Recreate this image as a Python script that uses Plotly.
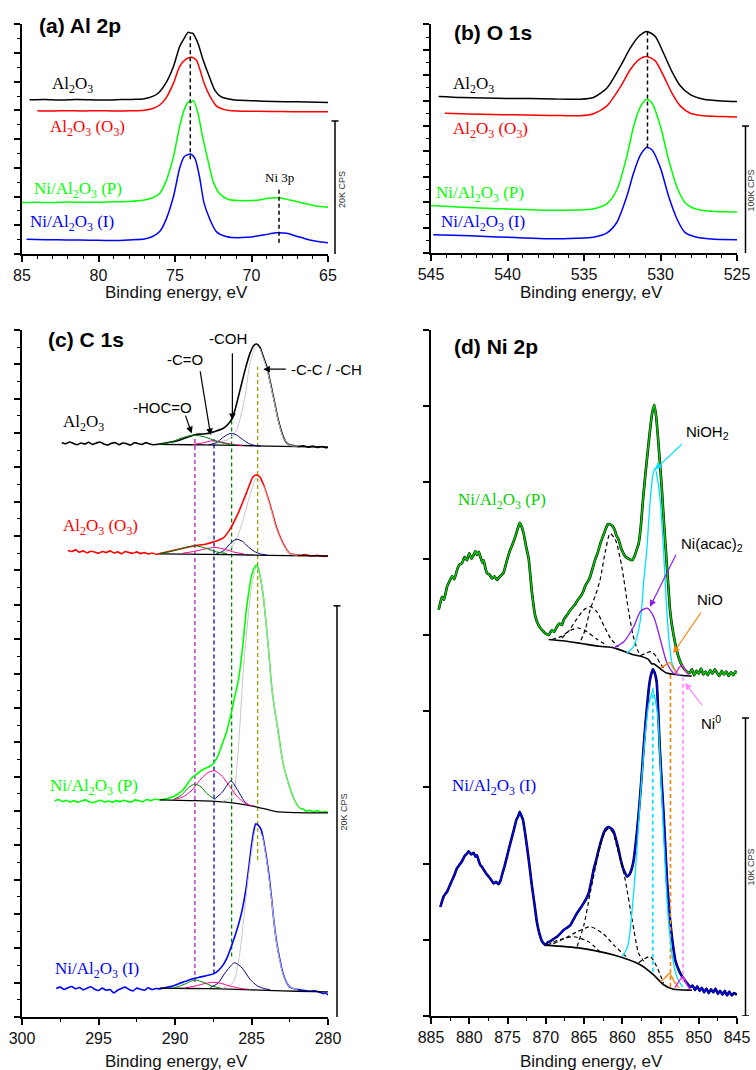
import plotly.graph_objects as go

# ===================== (a) Al 2p =====================
a_E_al2o3 = [84.5, 83.5, 82.5, 81.5, 80.5, 79.5, 78.5, 77.5, 77.0, 76.5, 76.1, 75.6, 75.1, 74.7, 74.4, 74.15, 74.0, 73.85, 73.5, 73.2, 72.8, 72.4, 72.0, 71.2, 70.0, 68.5, 67.0, 65.0]
a_I_al2o3 = [5.37, 5.38, 5.36, 5.38, 5.37, 5.36, 5.38, 5.39, 5.41, 5.48, 5.60, 5.95, 6.53, 7.22, 7.51, 7.72, 7.70, 7.69, 7.34, 6.82, 6.24, 5.71, 5.48, 5.37, 5.34, 5.31, 5.30, 5.28]
a_E_al2o3_o3 = [84.0, 83.0, 82.0, 81.0, 80.0, 79.0, 78.0, 77.0, 76.5, 76.0, 75.6, 75.1, 74.7, 74.3, 73.9, 73.6, 73.4, 73.1, 72.7, 72.3, 71.7, 71.0, 69.5, 68.0, 66.5, 65.0]
a_I_al2o3_o3 = [4.99, 4.98, 4.99, 4.98, 4.99, 4.98, 4.99, 5.01, 5.06, 5.19, 5.42, 5.95, 6.53, 6.78, 6.85, 6.75, 6.47, 5.95, 5.48, 5.16, 5.02, 4.98, 4.97, 4.96, 4.95, 4.95]
a_E_ni_p = [85.0, 84.0, 83.0, 82.0, 81.0, 80.0, 79.0, 78.0, 77.0, 76.5, 76.0, 75.6, 75.1, 74.7, 74.4, 74.1, 73.95, 73.8, 73.5, 73.2, 72.8, 72.5, 72.1, 71.5, 70.8, 70.0, 69.5, 68.9, 68.2, 67.5, 66.6, 65.8, 65.0]
a_I_ni_p = [1.79, 1.80, 1.79, 1.81, 1.80, 1.80, 1.82, 1.83, 1.88, 1.95, 2.11, 2.52, 3.39, 4.44, 5.02, 5.31, 5.28, 5.35, 4.90, 4.09, 3.16, 2.52, 2.11, 1.90, 1.86, 1.86, 1.88, 1.94, 1.96, 1.88, 1.77, 1.67, 1.63]
a_E_ni_i = [84.7, 83.5, 82.0, 80.5, 79.0, 78.0, 77.0, 76.5, 76.0, 75.6, 75.1, 74.7, 74.4, 74.0, 73.7, 73.4, 73.1, 72.7, 72.3, 71.6, 70.3, 69.2, 68.4, 67.7, 67.1, 66.2, 65.0]
a_I_ni_i = [0.51, 0.50, 0.49, 0.48, 0.47, 0.49, 0.52, 0.60, 0.78, 1.18, 2.00, 2.98, 3.39, 3.48, 3.33, 2.69, 1.77, 1.18, 0.78, 0.60, 0.58, 0.66, 0.74, 0.72, 0.63, 0.49, 0.39]
a_mark_E = [74.0, 68.2]
a_mark_lo = [3.30, 0.39]
a_mark_hi = [7.69, 2.29]

# ===================== (b) O 1s =====================
b_E_al2o3 = [544.5, 543.0, 541.5, 540.0, 538.5, 537.0, 535.25, 534.38, 533.5, 532.63, 531.98, 531.43, 530.89, 530.34, 529.8, 529.25, 528.71, 528.05, 527.18, 526.0, 525.0]
b_I_al2o3 = [6.16, 6.12, 6.10, 6.08, 6.08, 6.06, 6.05, 6.12, 6.49, 7.34, 8.06, 8.52, 8.72, 8.52, 7.86, 7.14, 6.58, 6.23, 6.05, 5.98, 5.96]
b_E_al2o3_o3 = [544.1, 542.5, 541.0, 539.5, 538.0, 536.5, 535.25, 534.38, 533.5, 532.63, 531.98, 531.43, 530.89, 530.34, 529.8, 529.25, 528.71, 528.05, 527.18, 526.0, 525.0]
b_I_al2o3_o3 = [5.50, 5.47, 5.45, 5.44, 5.42, 5.41, 5.40, 5.48, 5.79, 6.53, 7.21, 7.60, 7.73, 7.56, 6.97, 6.29, 5.79, 5.50, 5.40, 5.37, 5.35]
b_E_ni_p = [545.0, 543.5, 541.8, 539.5, 537.4, 535.5, 534.4, 533.5, 532.85, 532.2, 531.76, 531.3, 530.9, 530.56, 530.0, 529.47, 528.9, 528.4, 527.7, 526.7, 525.0]
b_I_ni_p = [1.87, 1.82, 1.77, 1.72, 1.68, 1.69, 1.73, 1.94, 2.49, 3.80, 4.98, 5.77, 6.05, 5.90, 4.98, 3.67, 2.56, 1.99, 1.73, 1.64, 1.61]
b_E_ni_i = [544.85, 543.0, 541.8, 539.5, 537.4, 535.5, 534.4, 533.5, 532.85, 532.2, 531.76, 531.3, 530.9, 530.56, 530.0, 529.47, 528.9, 528.4, 527.7, 526.7, 525.0]
b_I_ni_i = [0.72, 0.69, 0.66, 0.61, 0.56, 0.58, 0.62, 0.79, 1.21, 2.23, 3.15, 3.87, 4.15, 4.06, 3.34, 2.23, 1.31, 0.81, 0.63, 0.55, 0.52]
b_mark_E = [530.85]
b_mark_lo = [4.15]
b_mark_hi = [8.72]

# ===================== (c) C 1s =====================
c_E_al2o3 = [297.4, 297.15, 296.9, 296.65, 296.4, 296.15, 295.9, 295.65, 295.4, 295.15, 294.9, 294.65, 294.4, 294.15, 293.9, 293.65, 293.4, 293.15, 292.9, 292.65, 292.4, 292.15, 291.9, 291.65, 291.4,
             291.0, 290.54, 290.1, 289.67, 289.0, 288.7, 288.37, 288.0, 287.6, 287.3, 286.84, 286.55, 286.3, 286.08, 285.75, 285.42, 285.1, 284.85, 284.66, 284.45, 284.25, 284.0, 283.57, 283.25, 282.92, 282.7, 282.48, 282.2, 281.9, 281.6, 281.3, 281.0, 280.7, 280.4, 280.1, 280.0]
c_I_al2o3 = [16.72, 16.69, 16.74, 16.70, 16.66, 16.71, 16.68, 16.73, 16.67, 16.71, 16.74, 16.68, 16.65, 16.70, 16.72, 16.66, 16.71, 16.69, 16.65, 16.72, 16.69, 16.67, 16.72, 16.68, 16.66,
             16.68, 16.72, 16.75, 16.80, 16.91, 16.95, 16.97, 16.98, 17.02, 17.06, 17.14, 17.25, 17.40, 17.67, 18.25, 18.84, 19.32, 19.55, 19.59, 19.50, 19.25, 18.93, 18.06, 17.38, 16.89, 16.72, 16.65, 16.63, 16.61, 16.63, 16.59, 16.62, 16.58, 16.61, 16.57, 16.59]
c_E_al2o3_o3 = [297.0, 296.75, 296.5, 296.25, 296.0, 295.75, 295.5, 295.25, 295.0, 294.75, 294.5, 294.25, 294.0, 293.75, 293.5, 293.25, 293.0, 292.75, 292.5, 292.25, 292.0, 291.75, 291.5, 291.25,
                291.0, 290.13, 289.26, 288.71, 287.95, 287.41, 286.86, 286.43, 285.88, 285.34, 284.9, 284.68, 284.45, 284.25, 283.81, 283.38, 282.94, 282.51, 282.2, 281.85, 281.5, 281.1, 280.7, 280.3, 280.0]
c_I_al2o3_o3 = [13.58, 13.55, 13.60, 13.53, 13.57, 13.51, 13.56, 13.54, 13.50, 13.55, 13.52, 13.57, 13.51, 13.54, 13.49, 13.55, 13.52, 13.50, 13.54, 13.49, 13.52, 13.48, 13.51, 13.47,
                13.49, 13.58, 13.67, 13.72, 13.77, 13.84, 13.94, 14.18, 14.66, 15.25, 15.73, 15.78, 15.72, 15.54, 14.95, 14.27, 13.79, 13.50, 13.46, 13.44, 13.46, 13.42, 13.44, 13.41, 13.42]
c_E_ni_p = [297.86, 297.6, 297.35, 297.1, 296.85, 296.6, 296.35, 296.1, 295.85, 295.6, 295.35, 295.1, 294.85, 294.6, 294.35, 294.1, 293.85, 293.6, 293.35, 293.1, 292.85, 292.6, 292.35, 292.1, 291.85, 291.6, 291.35,
            291.0, 290.6, 290.13, 289.8, 289.48, 289.2, 288.93, 288.65, 288.39, 288.1, 287.84, 287.6, 287.41, 287.15, 286.86, 286.63, 286.43, 286.25, 286.1, 285.88, 285.7, 285.55, 285.34, 285.15, 285.01, 284.85, 284.68, 284.55, 284.4, 284.25, 284.1, 283.92, 283.7, 283.55, 283.38, 283.2, 283.05, 282.9, 282.72, 282.5, 282.29, 282.05, 281.85, 281.6, 281.4, 281.2, 280.95, 280.7, 280.45, 280.2, 280.0]
c_I_ni_p = [6.29, 6.33, 6.27, 6.31, 6.26, 6.30, 6.25, 6.29, 6.32, 6.27, 6.24, 6.28, 6.31, 6.26, 6.29, 6.25, 6.30, 6.27, 6.31, 6.28, 6.26, 6.32, 6.29, 6.27, 6.33, 6.30, 6.34,
            6.32, 6.35, 6.41, 6.50, 6.61, 6.78, 6.95, 7.05, 7.14, 7.22, 7.27, 7.33, 7.43, 7.65, 8.01, 8.30, 8.65, 9.00, 9.32, 9.75, 10.30, 10.90, 11.85, 12.45, 12.82, 13.05, 13.16, 13.05, 12.75, 12.33, 11.70, 10.88, 9.70, 9.15, 8.65, 8.15, 7.68, 7.32, 7.00, 6.68, 6.41, 6.20, 6.08, 6.05, 5.99, 6.02, 5.97, 6.01, 5.96, 5.98, 5.95]
c_E_ni_i = [297.76, 297.5, 297.25, 297.0, 296.75, 296.5, 296.25, 296.0, 295.75, 295.5, 295.25, 295.0, 294.75, 294.5, 294.25, 294.0, 293.75, 293.5, 293.25, 293.0, 292.75, 292.5, 292.25, 292.0, 291.75, 291.5, 291.25,
            291.0, 290.6, 290.13, 289.75, 289.37, 289.0, 288.71, 288.4, 288.06, 287.75, 287.41, 287.15, 286.86, 286.6, 286.32, 286.05, 285.77, 285.55, 285.34, 285.15, 285.01, 284.85, 284.73, 284.55, 284.36, 284.2, 284.03, 283.85, 283.7, 283.55, 283.38, 283.15, 282.94, 282.7, 282.51, 282.2, 281.85, 281.5, 281.2, 280.9, 280.6, 280.3, 280.15, 280.0]
c_I_ni_i = [0.83, 0.87, 0.80, 0.85, 0.89, 0.82, 0.86, 0.79, 0.84, 0.88, 0.81, 0.77, 0.84, 0.78, 0.80, 0.70, 0.78, 0.83, 0.87, 0.80, 0.76, 0.84, 0.81, 0.78, 0.85, 0.80, 0.83,
            0.82, 0.86, 0.90, 0.97, 1.03, 1.09, 1.13, 1.16, 1.19, 1.22, 1.27, 1.36, 1.51, 1.72, 2.05, 2.40, 2.82, 3.25, 3.79, 4.45, 4.96, 5.42, 5.62, 5.58, 5.44, 5.12, 4.67, 4.10, 3.50, 2.85, 2.24, 1.68, 1.27, 1.00, 0.88, 0.82, 0.79, 0.77, 0.75, 0.76, 0.73, 0.68, 0.70, 0.64]

# fitted components (c): Al2O3
c_E_al2o3_cc = [287.3, 286.5, 285.97, 285.7, 285.42, 285.1, 284.8, 284.66, 284.45, 284.25, 284.0, 283.57, 283.25, 282.92, 282.48, 282.0]
c_I_al2o3_cc = [16.70, 16.82, 17.09, 17.50, 18.06, 19.03, 19.45, 19.52, 19.45, 19.20, 18.88, 18.02, 17.35, 16.87, 16.64, 16.62]
c_E_al2o3_coh = [287.8, 287.3, 286.9, 286.5, 286.3, 286.0, 285.6, 285.2, 284.8, 284.4]
c_I_al2o3_coh = [16.66, 16.72, 16.86, 16.97, 16.99, 16.95, 16.82, 16.70, 16.64, 16.62]
c_E_al2o3_co = [288.8, 288.2, 287.5, 286.9, 286.2, 285.6]
c_I_al2o3_co = [16.67, 16.71, 16.78, 16.73, 16.67, 16.64]
c_E_al2o3_hoco = [291.0, 290.3, 289.6, 288.8, 288.0, 287.3, 286.6, 286.0]
c_I_al2o3_hoco = [16.67, 16.73, 16.85, 16.94, 16.88, 16.76, 16.68, 16.65]
c_E_al2o3_bg = [291.0, 289.0, 287.0, 285.0, 283.0, 281.0, 280.0]
c_I_al2o3_bg = [16.67, 16.66, 16.65, 16.63, 16.61, 16.60, 16.60]
# Al2O3 (O3)
c_E_o3_cc = [287.0, 286.4, 285.9, 285.5, 285.1, 284.8, 284.68, 284.25, 283.81, 283.38, 282.94, 282.51, 282.0]
c_I_o3_cc = [13.48, 13.62, 14.00, 14.55, 15.20, 15.60, 15.70, 15.48, 14.90, 14.22, 13.76, 13.49, 13.44]
c_E_o3_coh = [287.3, 286.8, 286.4, 286.0, 285.6, 285.2, 284.8, 284.4, 284.0]
c_I_o3_coh = [13.48, 13.58, 13.78, 13.91, 13.85, 13.68, 13.55, 13.48, 13.45]
c_E_o3_co = [289.5, 288.8, 288.1, 287.4, 286.8, 286.1, 285.5]
c_I_o3_co = [13.50, 13.55, 13.62, 13.67, 13.62, 13.53, 13.48]
c_E_o3_hoco = [291.0, 290.2, 289.4, 288.7, 288.0, 287.3, 286.6]
c_I_o3_hoco = [13.49, 13.56, 13.66, 13.72, 13.65, 13.54, 13.49]
c_E_o3_bg = [291.0, 288.0, 285.0, 282.5, 280.0]
c_I_o3_bg = [13.48, 13.47, 13.45, 13.43, 13.42]
# Ni/Al2O3 (P)
c_E_p_cc = [286.9, 286.5, 286.2, 285.9, 285.66, 285.55, 285.23, 285.0, 284.68, 284.45, 284.25, 283.92, 283.7, 283.38, 283.05, 282.72, 282.29, 281.85]
c_I_p_cc = [6.28, 6.35, 6.45, 7.60, 9.20, 10.00, 11.60, 12.50, 13.10, 12.85, 12.30, 10.85, 9.68, 8.63, 7.66, 6.98, 6.38, 6.06]
c_E_p_coh = [287.45, 286.9, 286.35, 285.9, 285.5, 285.2]
c_I_p_coh = [6.33, 6.55, 6.87, 6.60, 6.30, 6.17]
c_E_p_co = [290.1, 289.5, 288.9, 288.4, 287.9, 287.41, 286.9, 286.4, 285.9, 285.4, 284.9]
c_I_p_co = [6.33, 6.40, 6.60, 6.88, 7.10, 7.17, 7.00, 6.70, 6.40, 6.22, 6.14]
c_E_p_hoco = [290.1, 289.6, 289.1, 288.7, 288.3, 287.9, 287.45]
c_I_p_hoco = [6.33, 6.45, 6.68, 6.78, 6.70, 6.50, 6.35]
c_E_p_bg = [291.0, 289.0, 287.4, 286.0, 284.7, 283.4, 282.0, 280.0]
c_I_p_bg = [6.32, 6.30, 6.28, 6.22, 6.12, 5.98, 5.95, 5.94]
# Ni/Al2O3 (I)
c_E_i_cc = [286.86, 286.2, 285.77, 285.5, 285.23, 284.9, 284.73, 284.36, 284.03, 283.7, 283.38, 282.94, 282.51, 282.0]
c_I_i_cc = [0.84, 1.00, 1.85, 2.90, 3.99, 5.10, 5.45, 5.32, 4.60, 3.45, 2.20, 1.25, 0.88, 0.80]
c_E_i_coh = [287.7, 287.2, 286.7, 286.1, 285.6, 285.1, 284.6, 284.1, 283.8]
c_I_i_coh = [0.86, 0.98, 1.30, 1.58, 1.42, 1.10, 0.90, 0.82, 0.80]
c_E_i_co = [289.4, 288.7, 288.0, 287.5, 287.0, 286.4, 285.8, 285.3]
c_I_i_co = [0.84, 0.90, 0.98, 1.01, 0.98, 0.90, 0.84, 0.81]
c_E_i_hoco = [290.1, 289.4, 288.7, 288.1, 287.5, 287.0]
c_I_i_hoco = [0.84, 0.95, 1.08, 1.00, 0.89, 0.84]
c_E_i_bg = [291.0, 289.0, 287.0, 285.0, 283.0, 281.0, 280.0]
c_I_i_bg = [0.84, 0.83, 0.82, 0.79, 0.76, 0.74, 0.73]
# guide lines (c)
c_mark_E = [288.7, 287.45, 286.3, 284.6]
c_mark_lo = [1.02, 1.27, 1.76, 4.57]
c_mark_hi = [16.92, 16.82, 17.38, 18.93]

# ===================== (d) Ni 2p =====================
d_E_p = [884.0, 883.78, 883.56, 883.3, 882.91, 882.6, 882.25, 881.95, 881.6, 881.3, 880.95, 880.6, 880.29, 880.0, 879.7, 879.42, 879.2, 878.99, 878.75, 878.55, 878.3, 878.12, 877.9, 877.68, 877.35, 877.03, 876.7, 876.37, 876.05, 875.72, 875.5, 875.28, 874.95, 874.63, 874.3, 873.98, 873.7, 873.41, 873.15, 872.89, 872.55, 872.23, 871.8, 871.36, 871.0, 870.71, 870.35, 870.05,
         869.62, 869.2, 868.9, 868.53, 868.2, 867.9, 867.6, 867.22, 866.9, 866.5, 866.1, 865.8, 865.48, 865.1, 864.8, 864.5, 864.17, 863.8, 863.5, 863.2, 862.86, 862.5, 862.2, 861.9, 861.56, 861.3, 861.0, 860.75, 860.47, 860.2, 859.9, 859.6, 859.38, 859.0, 858.73, 858.4, 858.1, 857.85, 857.55, 857.25, 856.9, 856.6, 856.3, 856.05, 855.8, 855.55, 855.3, 855.07, 854.85, 854.63, 854.4, 854.19, 853.95, 853.76, 853.54, 853.1, 852.67, 852.1, 851.58,
         851.2, 850.9, 850.6, 850.3, 850.0, 849.7, 849.4, 849.1, 848.8, 848.5, 848.2, 847.9, 847.6, 847.3, 847.0, 846.7, 846.4, 846.1, 845.8, 845.5, 845.2, 845.0]
d_I_p = [5.33, 5.42, 5.50, 5.46, 5.63, 5.70, 5.77, 5.73, 5.85, 5.92, 5.94, 6.02, 5.98, 6.07, 6.00, 6.05, 6.10, 6.05, 6.09, 6.03, 5.95, 5.98, 5.88, 5.81, 5.79, 5.74, 5.77, 5.72, 5.76, 5.79, 5.82, 5.90, 6.02, 6.12, 6.20, 6.29, 6.38, 6.47, 6.42, 6.33, 6.15, 6.00, 5.55, 5.24, 5.14, 5.09, 5.05, 5.02,
         5.00, 5.06, 5.04, 5.11, 5.15, 5.13, 5.21, 5.26, 5.31, 5.36, 5.41, 5.46, 5.50, 5.57, 5.65, 5.70, 5.77, 5.90, 6.00, 6.08, 6.20, 6.30, 6.38, 6.45, 6.45, 6.43, 6.38, 6.30, 6.25, 6.15, 6.08, 6.03, 6.01, 5.99, 5.98, 6.03, 6.12, 6.20, 6.45, 6.82, 7.18, 7.47, 7.75, 7.93, 8.02, 7.85, 7.55, 7.25, 6.95, 6.60, 6.25, 5.94, 5.60, 5.33, 5.15, 4.90, 4.72, 4.58, 4.52,
         4.50, 4.55, 4.47, 4.53, 4.49, 4.56, 4.48, 4.52, 4.47, 4.54, 4.49, 4.55, 4.50, 4.46, 4.53, 4.48, 4.52, 4.46, 4.51, 4.47, 4.52, 4.50]
d_E_i = [883.78, 883.34, 882.91, 882.6, 882.25, 881.9, 881.6, 881.3, 880.95, 880.6, 880.3, 880.08, 879.75, 879.42, 879.2, 878.99, 878.75, 878.55, 878.3, 878.12, 877.8, 877.46, 877.1, 876.81, 876.5, 876.15, 875.9, 875.72, 875.4, 875.07, 874.75, 874.41, 874.1, 873.85, 873.6, 873.41, 873.2, 872.97, 872.7, 872.45, 872.1, 871.8, 871.45, 871.14, 870.8, 870.49, 870.05,
         869.7, 869.4, 869.0, 868.53, 868.1, 867.66, 867.2, 866.79, 866.35, 865.92, 865.5, 865.04, 864.7, 864.39, 864.05, 863.74, 863.4, 863.08, 862.75, 862.43, 862.1, 861.78, 861.45, 861.12, 860.8, 860.47, 860.2, 859.9, 859.6, 859.38, 859.1, 858.86, 858.55, 858.29, 858.05, 857.85, 857.5, 857.2, 856.95, 856.76, 856.55, 856.3, 856.0, 855.75, 855.5, 855.3, 855.1, 854.85, 854.6, 854.35, 854.15, 853.9, 853.71, 853.4, 853.06, 852.6, 852.19, 851.6, 851.1,
         850.8, 850.5, 850.2, 849.9, 849.6, 849.3, 849.0, 848.7, 848.4, 848.1, 847.8, 847.5, 847.2, 846.9, 846.6, 846.3, 846.0, 845.7, 845.4, 845.0]
d_I_i = [1.43, 1.57, 1.63, 1.70, 1.78, 1.86, 1.94, 1.98, 2.03, 2.10, 2.13, 2.16, 2.12, 2.14, 2.09, 2.11, 2.03, 1.98, 1.95, 1.92, 1.87, 1.83, 1.78, 1.74, 1.76, 1.73, 1.78, 1.85, 1.96, 2.09, 2.22, 2.35, 2.47, 2.57, 2.62, 2.68, 2.63, 2.57, 2.40, 2.22, 1.95, 1.70, 1.45, 1.22, 1.07, 0.98, 0.93,
         0.97, 0.98, 1.01, 1.04, 1.08, 1.13, 1.16, 1.19, 1.27, 1.35, 1.41, 1.48, 1.54, 1.61, 1.76, 1.92, 2.05, 2.18, 2.30, 2.40, 2.46, 2.48, 2.46, 2.42, 2.31, 2.18, 2.05, 1.94, 1.87, 1.83, 1.85, 1.90, 2.02, 2.22, 2.45, 2.66, 3.10, 3.53, 3.85, 4.06, 4.28, 4.45, 4.55, 4.50, 4.38, 4.00, 3.53, 3.08, 2.66, 2.18, 1.78, 1.45, 1.22, 0.95, 0.73, 0.60, 0.52, 0.44, 0.38,
         0.40, 0.34, 0.39, 0.33, 0.37, 0.31, 0.36, 0.30, 0.35, 0.31, 0.36, 0.29, 0.33, 0.28, 0.33, 0.27, 0.32, 0.27, 0.30, 0.28]

# fitted components (d): (P)
d_E_p_bg = [869.62, 867.5, 865.5, 863.0, 861.1, 858.55, 857.6, 856.6, 856.15, 855.9, 855.2, 854.2, 853.0, 852.4, 851.14, 850.9]
d_I_p_bg = [4.94, 4.92, 4.89, 4.85, 4.83, 4.74, 4.72, 4.68, 4.62, 4.62, 4.57, 4.50, 4.48, 4.47, 4.46, 4.46]
d_E_p_sat1 = [865.4, 864.8, 864.2, 863.5, 862.9, 862.2, 861.6, 860.9, 860.07, 859.2, 858.6, 858.0, 857.6]
d_I_p_sat1 = [4.93, 5.08, 5.33, 5.52, 5.72, 6.10, 6.33, 6.25, 5.90, 5.33, 5.00, 4.80, 4.73]
d_E_p_sat2 = [867.9, 867.0, 866.0, 865.0, 864.17, 863.3, 862.4, 861.5, 860.5]
d_I_p_sat2 = [4.96, 5.05, 5.20, 5.33, 5.37, 5.30, 5.12, 4.95, 4.84]
d_E_p_sat3 = [869.2, 868.0, 866.8, 865.7, 864.6, 863.4, 862.0]
d_I_p_sat3 = [4.94, 4.98, 5.06, 5.09, 5.04, 4.95, 4.86]
d_E_p_sat4 = [857.6, 856.9, 856.2, 855.6, 855.0, 854.5]
d_I_p_sat4 = [4.73, 4.76, 4.78, 4.72, 4.62, 4.55]
d_E_p_nioh2 = [859.4, 858.5, 858.0, 857.5, 857.2, 856.8, 856.4, 856.0, 855.72, 855.4, 855.07, 854.63, 854.19, 853.8, 853.5, 852.84, 852.5]
d_I_p_nioh2 = [4.76, 4.85, 5.00, 5.30, 5.70, 6.10, 6.70, 7.10, 7.19, 7.05, 6.80, 6.16, 5.33, 4.85, 4.63, 4.50, 4.47]
d_E_p_acac = [861.1, 859.8, 858.5, 857.6, 856.76, 855.9, 855.0, 854.15, 853.3, 852.4]
d_I_p_acac = [4.83, 4.91, 5.11, 5.31, 5.35, 5.24, 4.93, 4.63, 4.50, 4.47]
d_E_p_nio = [855.0, 854.4, 853.8, 853.2, 852.7]
d_I_p_nio = [4.57, 4.60, 4.64, 4.54, 4.48]
d_E_p_ni0 = [853.0, 852.5, 852.1, 851.7, 851.3]
d_I_p_ni0 = [4.50, 4.58, 4.60, 4.52, 4.47]
# (I)
d_E_i_bg = [870.05, 865.5, 861.1, 857.6, 855.9, 854.6, 853.3, 850.9]
d_I_i_bg = [0.93, 0.89, 0.80, 0.67, 0.54, 0.41, 0.35, 0.34]
d_E_i_sat1 = [865.9, 865.0, 864.2, 863.5, 862.9, 862.3, 861.78, 861.2, 860.7, 860.1, 859.6, 858.7, 857.85, 857.2]
d_I_i_sat1 = [0.91, 1.20, 1.61, 1.95, 2.22, 2.40, 2.46, 2.40, 2.22, 2.00, 1.78, 1.26, 0.82, 0.72]
d_E_i_sat2 = [869.0, 867.5, 866.0, 864.17, 862.5, 861.0, 859.4]
d_I_i_sat2 = [0.95, 1.02, 1.10, 1.17, 1.08, 0.92, 0.77]
d_E_i_sat3 = [869.8, 868.5, 866.35, 864.5, 862.9]
d_I_i_sat3 = [0.93, 0.99, 1.04, 0.98, 0.84]
d_E_i_sat4 = [857.85, 857.1, 856.33, 855.5, 854.6]
d_I_i_sat4 = [0.70, 0.75, 0.78, 0.65, 0.43]
d_E_i_nioh2 = [860.0, 859.3, 858.4, 857.5, 856.6, 856.0, 855.4, 854.9, 854.5, 854.0, 853.4, 852.8, 852.1]
d_I_i_nioh2 = [0.78, 0.91, 1.75, 3.05, 4.05, 4.26, 3.97, 3.00, 2.20, 1.30, 0.75, 0.50, 0.38]
d_E_i_nio = [855.0, 854.4, 853.8, 853.2, 852.6]
d_I_i_nio = [0.45, 0.50, 0.56, 0.45, 0.37]
d_E_i_ni0 = [853.1, 852.5, 852.06, 851.6, 851.1]
d_I_i_ni0 = [0.37, 0.47, 0.52, 0.42, 0.34]
d_mark_E = [856.0, 853.7, 852.06]
d_mark_lo = [0.58, 0.38, 0.45]
d_mark_hi = [4.30, 4.50, 4.44]

# scale bars (y data units of each panel) and labels
scale_labels = ["20K CPS", "100K CPS", "20K CPS", "10K CPS"]
scale_lo = [-0.14, -0.12, -0.03, 0.0]
scale_hi = [4.63, 5.00, 11.97, 3.91]

# ---------------------------------------------------------------
BLACK, RED, GREEN, BLUE = "#000000", "#FF0000", "#00FF00", "#0000FF"
GREEN_D = "#00D000"
SANS = "Liberation Sans, Arial, sans-serif"
SERIF = "Liberation Serif, Times New Roman, serif"

fig = go.Figure()
annotations = []
shapes = []


def line(x, y, xa, ya, color, width=1.5, dash=None, smooth=0.7, shape="spline"):
    ln = dict(color=color, width=width, shape=shape)
    if shape == "spline":
        ln["smoothing"] = smooth
    if dash:
        ln["dash"] = dash
    fig.add_trace(go.Scatter(x=x, y=y, mode="lines", xaxis=xa, yaxis=ya, line=ln,
                             hoverinfo="skip", showlegend=False))


def vmarks(Es, lo, hi, xa, ya, colors, width=1.3, dash="4px,3px"):
    for E, a, b, c in zip(Es, lo, hi, colors):
        line([E, E], [a, b], xa, ya, c, width=width, dash=dash, shape="linear")


def label(text, x, y, xr, yr, color, size=17, family=SERIF, xanchor="center"):
    annotations.append(dict(text=text, x=x, y=y, xref=xr, yref=yr, showarrow=False,
                            font=dict(family=family, size=size, color=color),
                            xanchor=xanchor, yanchor="middle"))


def arrow(x0, y0, x1, y1, xr, yr, color, head=2):
    annotations.append(dict(text="", x=x1, y=y1, ax=x0, ay=y0, xref=xr, yref=yr, axref=xr, ayref=yr,
                            showarrow=True, arrowhead=head, arrowsize=1.1, arrowwidth=1.2,
                            arrowcolor=color, standoff=0, startstandoff=0))


AL = "Al<sub>2</sub>O<sub>3</sub>"
ALO3 = "Al<sub>2</sub>O<sub>3</sub> (O<sub>3</sub>)"
NIP = "Ni/Al<sub>2</sub>O<sub>3</sub> (P)"
NII = "Ni/Al<sub>2</sub>O<sub>3</sub> (I)"

# ---- (a)
line(a_E_al2o3, a_I_al2o3, "x", "y", BLACK)
line(a_E_al2o3_o3, a_I_al2o3_o3, "x", "y", RED)
line(a_E_ni_p, a_I_ni_p, "x", "y", GREEN)
line(a_E_ni_i, a_I_ni_i, "x", "y", BLUE)
vmarks(a_mark_E, a_mark_lo, a_mark_hi, "x", "y", [BLACK, BLACK], width=1.5)
label(AL, 81.73, 5.88, "x", "y", BLACK)
label(ALO3, 80.75, 4.39, "x", "y", RED)
label(NIP, 81.34, 2.23, "x", "y", GREEN)
label(NII, 81.73, 1.09, "x", "y", BLUE)
label("Ni 3p", 68.14, 2.67, "x", "y", BLACK, size=13)

# ---- (b)
line(b_E_al2o3, b_I_al2o3, "x2", "y2", BLACK)
line(b_E_al2o3_o3, b_I_al2o3_o3, "x2", "y2", RED)
line(b_E_ni_p, b_I_ni_p, "x2", "y2", GREEN)
line(b_E_ni_i, b_I_ni_i, "x2", "y2", BLUE)
vmarks(b_mark_E, b_mark_lo, b_mark_hi, "x2", "y2", [BLACK], width=1.5)
label(AL, 542.22, 6.61, "x2", "y2", BLACK)
label(ALO3, 541.14, 4.84, "x2", "y2", RED)
label(NIP, 541.8, 2.32, "x2", "y2", GREEN)
label(NII, 541.57, 1.19, "x2", "y2", BLUE)

# ---- (c)
HOCO_C, CO_C, COH_C, CC_C = "#008000", "#FF0090", "#000080", "#C8C8C8"
vmarks(c_mark_E, c_mark_lo, c_mark_hi, "x3", "y3", ["#B020B0", "#0000C0", "#008000", "#A0A000"], width=1.3)
for E, I, col, w in [(c_E_al2o3, c_I_al2o3, BLACK, 1.6), (c_E_al2o3_o3, c_I_al2o3_o3, RED, 1.6),
                     (c_E_ni_p, c_I_ni_p, GREEN, 1.6), (c_E_ni_i, c_I_ni_i, BLUE, 1.6)]:
    line(E, I, "x3", "y3", col, width=w, smooth=0.5)
comps_c = [
    (c_E_al2o3_bg, c_I_al2o3_bg, BLACK), (c_E_al2o3_cc, c_I_al2o3_cc, CC_C), (c_E_al2o3_coh, c_I_al2o3_coh, COH_C),
    (c_E_al2o3_co, c_I_al2o3_co, CO_C), (c_E_al2o3_hoco, c_I_al2o3_hoco, HOCO_C),
    (c_E_o3_bg, c_I_o3_bg, BLACK), (c_E_o3_cc, c_I_o3_cc, CC_C), (c_E_o3_coh, c_I_o3_coh, COH_C),
    (c_E_o3_co, c_I_o3_co, CO_C), (c_E_o3_hoco, c_I_o3_hoco, HOCO_C),
    (c_E_p_bg, c_I_p_bg, BLACK), (c_E_p_cc, c_I_p_cc, CC_C), (c_E_p_coh, c_I_p_coh, COH_C),
    (c_E_p_co, c_I_p_co, CO_C), (c_E_p_hoco, c_I_p_hoco, HOCO_C),
    (c_E_i_bg, c_I_i_bg, BLACK), (c_E_i_cc, c_I_i_cc, CC_C), (c_E_i_coh, c_I_i_coh, COH_C),
    (c_E_i_co, c_I_i_co, CO_C), (c_E_i_hoco, c_I_i_hoco, HOCO_C),
]
for E, I, col in comps_c:
    line(E, I, "x3", "y3", col, width=1.0 if col != BLACK else 1.3)
label(AL, 296.01, 17.29, "x3", "y3", BLACK)
label(ALO3, 294.84, 14.27, "x3", "y3", RED)
label(NIP, 295.29, 6.70, "x3", "y3", GREEN)
label(NII, 295.07, 1.37, "x3", "y3", BLUE)
label("-HOC=O", 290.82, 17.74, "x3", "y3", BLACK, size=15, family=SANS)
label("-C=O", 289.35, 19.13, "x3", "y3", BLACK, size=15, family=SANS)
label("-COH", 286.54, 19.76, "x3", "y3", BLACK, size=15, family=SANS)
label("-C-C / -CH", 282.55, 18.84, "x3", "y3", BLACK, size=15, family=SANS, xanchor="left")
arrow(289.35, 17.55, 288.91, 16.99, "x3", "y3", BLACK)
arrow(288.37, 18.84, 287.67, 16.94, "x3", "y3", BLACK)
arrow(286.25, 19.37, 286.25, 17.38, "x3", "y3", BLACK)
arrow(282.66, 18.86, 284.23, 18.86, "x3", "y3", BLACK)

# ---- (d)
CYAN, PURP, ORNG, MAG, VIOL = "#00E0FF", "#8A20F0", "#FF8000", "#E020E0", "#FF88FF"
line(d_E_p, d_I_p, "x4", "y4", BLACK, width=2.6, smooth=0.4)
line(d_E_i, d_I_i, "x4", "y4", BLACK, width=2.6, smooth=0.4)
line(d_E_p, d_I_p, "x4", "y4", GREEN_D, width=1.5, smooth=0.4)
line(d_E_i, d_I_i, "x4", "y4", BLUE, width=1.5, smooth=0.4)
for E, I in [(d_E_p_sat1, d_I_p_sat1), (d_E_p_sat2, d_I_p_sat2), (d_E_p_sat3, d_I_p_sat3), (d_E_p_sat4, d_I_p_sat4),
             (d_E_i_sat1, d_I_i_sat1), (d_E_i_sat2, d_I_i_sat2), (d_E_i_sat3, d_I_i_sat3), (d_E_i_sat4, d_I_i_sat4)]:
    line(E, I, "x4", "y4", BLACK, width=1.2, dash="4px,3px")
line(d_E_p_bg, d_I_p_bg, "x4", "y4", BLACK, width=1.6)
line(d_E_i_bg, d_I_i_bg, "x4", "y4", BLACK, width=1.6)
vmarks(d_mark_E, d_mark_lo, d_mark_hi, "x4", "y4", [CYAN, ORNG, VIOL], width=1.6)
for E, I, col in [(d_E_p_nioh2, d_I_p_nioh2, CYAN), (d_E_p_acac, d_I_p_acac, PURP), (d_E_p_nio, d_I_p_nio, ORNG),
                  (d_E_p_ni0, d_I_p_ni0, MAG), (d_E_i_nioh2, d_I_i_nioh2, CYAN), (d_E_i_nio, d_I_i_nio, ORNG),
                  (d_E_i_ni0, d_I_i_ni0, MAG)]:
    line(E, I, "x4", "y4", col, width=1.3)
label(NIP, 875.72, 6.75, "x4", "y4", GREEN_D)
label(NII, 876.7, 3.01, "x4", "y4", BLUE)
label("NiOH<sub>2</sub>", 848.92, 7.65, "x4", "y4", BLACK, size=15, family=SANS)
label("Ni(acac)<sub>2</sub>", 848.27, 6.18, "x4", "y4", BLACK, size=15, family=SANS)
label("NiO", 848.53, 5.46, "x4", "y4", BLACK, size=15, family=SANS)
label("Ni<sup>0</sup>", 848.4, 3.85, "x4", "y4", BLACK, size=15, family=SANS)
arrow(852.02, 7.52, 855.72, 7.17, "x4", "y4", CYAN)
arrow(852.88, 6.07, 856.37, 5.37, "x4", "y4", PURP)
arrow(849.61, 5.31, 853.33, 4.76, "x4", "y4", ORNG)
arrow(849.41, 4.06, 851.8, 4.37, "x4", "y4", VIOL)

# ---- panel titles and axis titles
for txt, x, y in [("(a) Al 2p", 37, 26), ("(b) O 1s", 452, 32), ("(c) C 1s", 46, 339), ("(d) Ni 2p", 452, 346)]:
    annotations.append(dict(text="<b>%s</b>" % txt, x=x / 756, y=1 - y / 1070, xref="paper", yref="paper",
                            showarrow=False, xanchor="left", yanchor="middle",
                            font=dict(family=SANS, size=21, color=BLACK)))
for x, y in [(176, 293), (591, 293), (176, 1061), (591, 1061)]:
    annotations.append(dict(text="Binding energy, eV", x=x / 756, y=1 - y / 1070, xref="paper", yref="paper",
                            showarrow=False, xanchor="center", yanchor="middle",
                            font=dict(family=SANS, size=17, color="#111")))

# ---- scale bars
bar_x = [335, 745.5, 337, 745.5]
lab_x = [341.5, 750.5, 343.5, 750.5]
for k, ya in enumerate(["y", "y2", "y3", "y4"]):
    xp = bar_x[k] / 756
    cap = 3.5 / 756
    lw = dict(color=BLACK, width=1.5)
    shapes.append(dict(type="line", xref="paper", yref=ya, x0=xp, x1=xp, y0=scale_lo[k], y1=scale_hi[k], line=lw))
    for yv in (scale_lo[k], scale_hi[k]):
        shapes.append(dict(type="line", xref="paper", yref=ya, x0=xp - cap, x1=xp + cap, y0=yv, y1=yv, line=lw))
    annotations.append(dict(text=scale_labels[k], x=lab_x[k] / 756, y=(scale_lo[k] + scale_hi[k]) / 2,
                            xref="paper", yref=ya, showarrow=False, textangle=-90, xanchor="center", yanchor="middle",
                            font=dict(family=SANS, size=9, color="#333")))


def xax(dom, rng, minor_dtick, anchor):
    return dict(domain=dom, range=rng, anchor=anchor, showline=True, linecolor=BLACK, linewidth=1.5,
                ticks="outside", ticklen=6, tickwidth=1.5, tickcolor=BLACK, tick0=0, dtick=5,
                minor=dict(tick0=0, dtick=minor_dtick, ticks="outside", ticklen=3, tickwidth=1.2, tickcolor=BLACK),
                showgrid=False, zeroline=False, automargin=False,
                tickfont=dict(family=SANS, size=16, color="#111"))


def yax(dom, top, anchor, minor=True):
    d = dict(domain=dom, range=[0, top], anchor=anchor, showline=True, linecolor=BLACK, linewidth=1.5,
             ticks="outside", ticklen=6, tickwidth=1.5, tickcolor=BLACK, tick0=0, dtick=1,
             showticklabels=False, showgrid=False, zeroline=False, automargin=False)
    if minor:
        d["minor"] = dict(tick0=0, dtick=0.5, ticks="outside", ticklen=3, tickwidth=1.2, tickcolor=BLACK)
    return d


L = [22 / 756, 328 / 756]
R = [431 / 756, 737 / 756]
fig.update_layout(
    width=756, height=1070, margin=dict(l=0, r=0, t=0, b=0, pad=0, autoexpand=False),
    paper_bgcolor="white", plot_bgcolor="white", showlegend=False,
    xaxis=xax(L, [85, 65], 1, "y"),
    yaxis=yax([1 - 254 / 1070, 1 - 24.3 / 1070], 8, "x"),
    xaxis2=xax(R, [545, 525], 1, "y2"),
    yaxis2=yax([1 - 253 / 1070, 1 - 24.3 / 1070], 9, "x2"),
    xaxis3=xax(L, [300, 280], 2.5, "y3"),
    yaxis3=yax([1 - 1017 / 1070, 1 - 330 / 1070], 20, "x3"),
    xaxis4=xax(R, [885, 845], 2.5, "y4"),
    yaxis4=yax([1 - 1016 / 1070, 1 - 330 / 1070], 9, "x4", minor=False),
    annotations=annotations, shapes=shapes,
)

fig.write_html("out.html")
